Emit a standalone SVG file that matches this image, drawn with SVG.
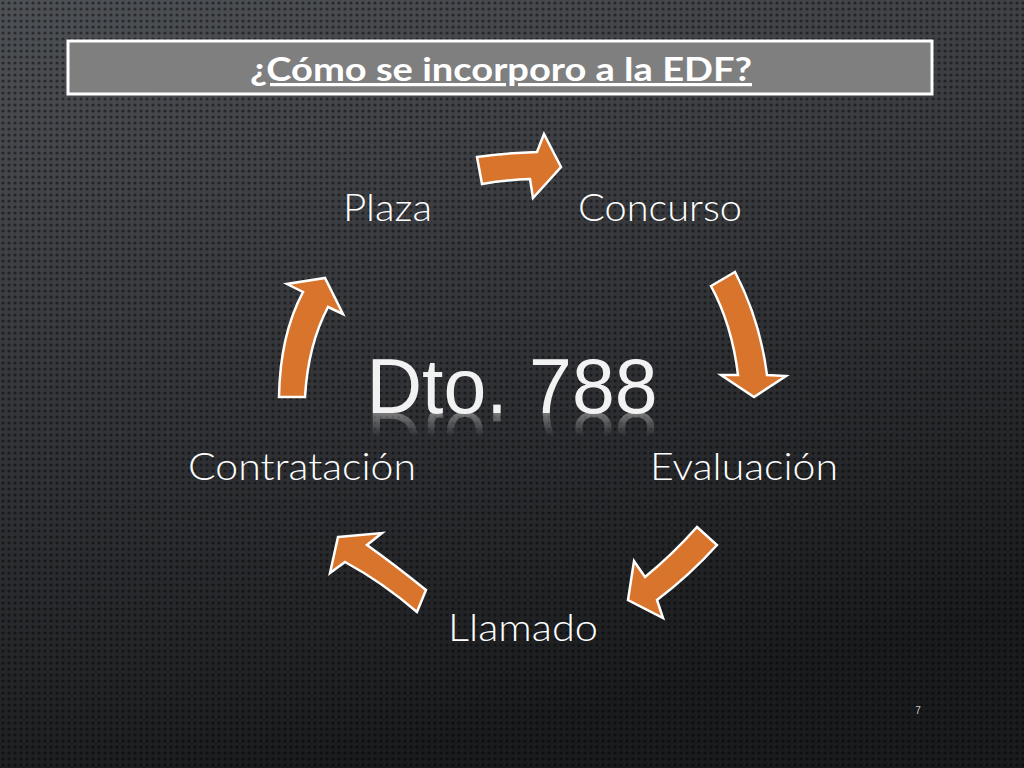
<svg xmlns="http://www.w3.org/2000/svg" xmlns:xlink="http://www.w3.org/1999/xlink" width="1024" height="768" viewBox="0 0 1024 768">
<defs>
<linearGradient id="bg" x1="0" y1="0" x2="0.3" y2="1">
<stop offset="0" stop-color="#4d5055"/>
<stop offset="0.45" stop-color="#36383c"/>
<stop offset="1" stop-color="#1a1b1d"/>
</linearGradient>
<pattern id="dots" width="6" height="6" patternUnits="userSpaceOnUse">
<circle cx="3" cy="3" r="1.6" fill="#000" fill-opacity="0.45"/>
<circle cx="0" cy="0" r="0.6" fill="#fff" fill-opacity="0.05"/>
</pattern>
<linearGradient id="refl" x1="0" y1="0" x2="0" y2="1">
<stop offset="0" stop-color="#fff" stop-opacity="0.55"/>
<stop offset="1" stop-color="#fff" stop-opacity="0"/>
</linearGradient>
<mask id="reflMask" maskUnits="userSpaceOnUse" x="0" y="413" width="1024" height="30">
<rect x="0" y="413" width="1024" height="24" fill="url(#refl)"/>
</mask>
<style>
.arrow{fill:#d9742d;stroke:#ffffff;stroke-width:2.5;stroke-linejoin:miter}
.lbl{font-family:"Lato","Liberation Sans",sans-serif;font-weight:300;font-size:38px;fill:#ffffff}
.title{font-family:"Lato","Liberation Sans",sans-serif;font-weight:700;font-size:32px;fill:#ffffff;text-decoration:underline}
.big{font-family:"Liberation Sans",Arial,sans-serif;font-size:77px;fill:#f2f2f2}
</style>
</defs>
<rect width="1024" height="768" fill="url(#bg)"/>
<rect width="1024" height="768" fill="url(#dots)"/>

<g id="title">
<rect x="68" y="41" width="864" height="53" fill="#7f7f7f" stroke="#ffffff" stroke-width="3"/>
<text class="title" x="250" y="81" textLength="502" lengthAdjust="spacingAndGlyphs">¿Cómo se incorporo a la EDF?</text>
</g>

<g id="center">
<text id="dto" class="big" x="512" y="413" text-anchor="middle">Dto. 788</text>
<g mask="url(#reflMask)">
<use xlink:href="#dto" href="#dto" transform="translate(0,826) scale(1,-1)" opacity="0.7"/>
</g>
</g>

<g id="node-concurso"><text class="lbl" x="578" y="221" textLength="164" lengthAdjust="spacingAndGlyphs">Concurso</text></g>
<g id="node-evaluacion"><text class="lbl" x="650" y="480" textLength="188" lengthAdjust="spacingAndGlyphs">Evaluación</text></g>
<g id="node-llamado"><text class="lbl" x="448" y="641" textLength="150" lengthAdjust="spacingAndGlyphs">Llamado</text></g>
<g id="node-contratacion"><text class="lbl" x="188" y="480" textLength="228" lengthAdjust="spacingAndGlyphs">Contratación</text></g>
<g id="node-plaza"><text class="lbl" x="343" y="221" textLength="89" lengthAdjust="spacingAndGlyphs">Plaza</text></g>

<g id="connectors">
<path class="arrow" d="M477,157 Q505,153 537,152 L544,134 L561,167 L533,198 L530,179 Q505,180 482,184 Z"/>
<path class="arrow" d="M711,286 L735,272 Q760,320 767,375 L786,376 L754,397 L721,375 L738,375 Q732,325 711,286 Z"/>
<path class="arrow" d="M697,527 L717,545 Q690,575 657,600 L663,618 L628,600 L634,561 L645,577 Q672,555 697,527 Z"/>
<path class="arrow" d="M338,537 L382,533 L367,545 Q395,565 426,590 L417,612 Q382,582 345,562 L330,573 Z"/>
<path class="arrow" d="M279,397 Q280,335 303,292 L287,284 L325,278 L343,314 L328,307 Q308,345 305,397 Z"/>
</g>

<text x="918" y="714" text-anchor="middle" font-family="Liberation Sans, sans-serif" font-size="10" fill="#c8c8c8">7</text>
</svg>
